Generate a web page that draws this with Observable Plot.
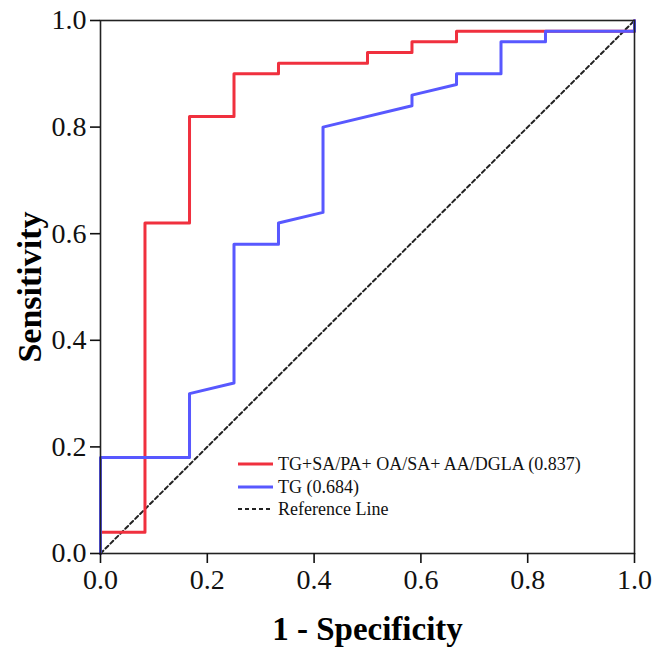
<!DOCTYPE html>
<html>
<head>
<meta charset="utf-8">
<script src="https://cdn.jsdelivr.net/npm/d3@7"></script>
<script src="https://cdn.jsdelivr.net/npm/@observablehq/plot@0.6"></script>
<style>
  html, body { margin: 0; padding: 0; background: #fff; }
  #wrap { position: relative; width: 655px; height: 648px; font-family: "Liberation Serif", "Times New Roman", serif; }
  #wrap svg, #wrap svg text { font-family: "Liberation Serif", "Times New Roman", serif !important; font-variant: normal !important; }
  g[aria-label="x-axis label"] text { font-size: 33px !important; font-weight: bold; fill: #000; }
  g[aria-label="y-axis label"] text { font-size: 34px !important; font-weight: bold; fill: #000; }
  #legend { position: absolute; left: 238px; top: 453px; font-size: 18px; color: #111; line-height: 22.5px; }
  #legend .row { display: flex; align-items: center; white-space: nowrap; }
  #legend svg { margin-right: 5px; }
</style>
</head>
<body>
<div id="wrap"></div>
<script>
// Series: combined model (red)
const comboFpr = [0, 0, 0.0833, 0.0833, 0.1667, 0.1667, 0.25, 0.25, 0.3333, 0.3333, 0.5, 0.5, 0.5833, 0.5833, 0.6667, 0.6667, 0.8333, 1.0, 1.0];
const comboTpr = [0, 0.04, 0.04, 0.62, 0.62, 0.82, 0.82, 0.90, 0.90, 0.92, 0.92, 0.94, 0.94, 0.96, 0.96, 0.98, 0.98, 0.98, 1.0];
// Series: TG alone (blue)
const tgFpr = [0, 0, 0.1667, 0.1667, 0.25, 0.25, 0.3333, 0.3333, 0.4167, 0.4167, 0.5833, 0.5833, 0.6667, 0.6667, 0.75, 0.75, 0.8333, 0.8333, 1.0, 1.0];
const tgTpr = [0, 0.18, 0.18, 0.30, 0.32, 0.58, 0.58, 0.62, 0.64, 0.80, 0.84, 0.86, 0.88, 0.90, 0.90, 0.96, 0.96, 0.98, 0.98, 1.0];
// Reference diagonal
const refX = [0, 1];
const refY = [0, 1];
const ticks = [0, 0.2, 0.4, 0.6, 0.8, 1.0];
const seriesNames = ["TG+SA/PA+ OA/SA+ AA/DGLA (0.837)", "TG (0.684)", "Reference Line"];
const seriesColors = ["#f0303e", "#5858ff", "#222"];

const combo = comboFpr.map((x, i) => ({x, y: comboTpr[i]}));
const tg = tgFpr.map((x, i) => ({x, y: tgTpr[i]}));
const ref = refX.map((x, i) => ({x, y: refY[i]}));

const serif = "Liberation Serif";
const chart = Plot.plot({
  width: 655,
  height: 648,
  marginLeft: 100,
  marginRight: 21,
  marginTop: 20,
  marginBottom: 95,
  style: { fontFamily: "'Liberation Serif', serif", fontSize: "28px", color: "#111", background: "#fff", overflow: "visible" },
  x: { domain: [0, 1] },
  y: { domain: [0, 1] },
  marks: [
    Plot.line(ref, {x: "x", y: "y", stroke: seriesColors[2], strokeWidth: 2, strokeDasharray: "4,3"}),
    Plot.line(combo, {x: "x", y: "y", stroke: seriesColors[0], strokeWidth: 3}),
    Plot.line(tg, {x: "x", y: "y", stroke: seriesColors[1], strokeWidth: 3}),
    Plot.frame({stroke: "#222", strokeWidth: 1.6}),
    Plot.axisX({ticks, tickFormat: d3.format(".1f"), tickSize: 10, tickPadding: 6, strokeWidth: 1.6, fontFamily: serif, fontSize: 28, fontVariant: "normal", label: "1 - Specificity", labelAnchor: "center", labelOffset: 86, labelArrow: "none"}),
    Plot.axisY({ticks, tickFormat: d3.format(".1f"), tickSize: 10, tickPadding: 4, strokeWidth: 1.6, fontFamily: serif, fontSize: 28, fontVariant: "normal", label: "Sensitivity", labelAnchor: "center", labelOffset: 84, labelArrow: "none"})
  ]
});
const wrap = document.getElementById("wrap");
wrap.appendChild(chart);

const legend = document.createElement("div");
legend.id = "legend";
seriesNames.forEach((name, i) => {
  const row = document.createElement("div");
  row.className = "row";
  const dash = i === 2 ? 'stroke-dasharray="4,3" stroke-width="2"' : 'stroke-width="3"';
  row.innerHTML = `<svg width="35" height="10"><line x1="0" x2="35" y1="5" y2="5" stroke="${seriesColors[i]}" ${dash}/></svg><span>${name}</span>`;
  legend.appendChild(row);
});
wrap.appendChild(legend);
</script>
</body>
</html>
